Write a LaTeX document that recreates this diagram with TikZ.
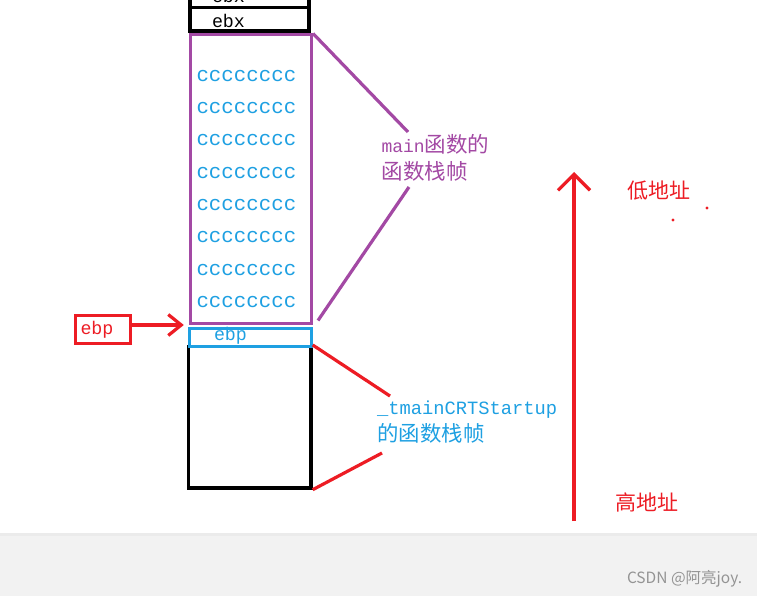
\documentclass[tikz,border=0pt]{standalone}
\usepackage{fontspec}
\setmainfont{Liberation Mono}
\newfontfamily\cjk{Noto Sans CJK SC}
\usetikzlibrary{arrows.meta}
\definecolor{pp}{HTML}{A349A4}
\definecolor{rd}{HTML}{ED1C24}
\definecolor{bl}{HTML}{1EA0E2}
\tikzset{
  box/.style={draw, line width=3.4pt, inner sep=0pt, rectangle},
  lbl/.style={anchor=base west, inner sep=0pt, outer sep=0pt},
  cc/.style={lbl, text=bl, font=\fontsize{20.8}{20.8}\selectfont},
  reg/.style={lbl, font=\fontsize{18.3}{18.3}\selectfont},
  hz/.style={lbl, text=rd, font=\cjk\fontsize{21}{21}\selectfont},
  conn/.style={line width=3.2pt},
}
\begin{document}
\begin{tikzpicture}[x=1pt,y=-1pt]
\useasboundingbox (0,0) rectangle (757,596);
\fill[white] (0,0) rectangle (757,596);
% bottom band
\fill[black!5] (0,534) rectangle (757,596);
\fill[black!8] (0,533) rectangle (757,536);
\node[lbl, text=black!42, font=\cjk\fontsize{15.5}{15.5}\selectfont] (csdn) at (627,583) {CSDN @阿亮joy.};

% stack boxes
\begin{scope}
\clip (0,0) rectangle (757,596);
\node[box, minimum width=119pt, minimum height=37.5pt] (topbox) at (249.5,-11.25) {};
\node[reg] (topt) at (212,2.5) {ebx};
\end{scope}
\node[box, minimum width=119pt, minimum height=23.5pt] (ebxbox) at (249.5,19.25) {};
\node[reg] (ebxt) at (212,28) {ebx};
\node[box, draw=pp, line width=3pt, minimum width=121.5pt, minimum height=288pt] (mainbox) at (250.75,179) {};
\node[box, minimum width=122.7pt, minimum height=141.3pt] (crtbox) at (249.65,417.35) {};
\node[box, draw=bl, line width=3pt, minimum width=122.2pt, minimum height=18.4pt] (ebpbox) at (250.4,337.5) {};
\node[reg, text=bl] (ebpt) at (214,340) {ebp};

\foreach \i/\yy in {1/81.5,2/113.7,3/146,4/178.2,5/210.5,6/242.7,7/275,8/307.2}
  \node[cc] (c\i) at (196.5,\yy) {cccccccc};

% red ebp pointer
\node[box, draw=rd, line width=3pt, minimum width=54.7pt, minimum height=27.6pt] (redebp) at (102.65,329.5) {};
\node[reg, text=rd] (redebpt) at (80.5,334) {ebp};
\draw[conn, rd, -{Straight Barb[length=13pt,width=21pt]}, shorten >=4pt] ([yshift=4.5pt]redebp.east) -- ([yshift=12.5pt]ebpbox.west);

% main labels
\node[lbl, text=pp] (mainl1) at (381.5,153) {\fontsize{18}{18}\selectfont main{\cjk\fontsize{21.5}{21.5}\selectfont 函数的}};
\node[lbl, text=pp, font=\cjk\fontsize{21.5}{21.5}\selectfont] (mainl2) at (381.5,179.5) {函数栈帧};
\coordinate (pa) at (408,132);
\coordinate (pb) at (409,187);
\draw[conn, pp] (mainbox.north east) -- (pa);
\draw[conn, pp] (pb) -- ([xshift=5pt,yshift=4pt]mainbox.south east);

% crt labels
\node[lbl, text=bl, font=\fontsize{18.75}{18.75}\selectfont] (crtl1) at (377,414) {\_tmainCRTStartup};
\node[lbl, text=bl, font=\cjk\fontsize{21.4}{21.4}\selectfont] (crtl2) at (377.5,441) {的函数栈帧};
\coordinate (ra) at (390,396);
\coordinate (rb) at (382,453);
\draw[conn, rd] (crtbox.north east) -- (ra);
\draw[conn, rd] (crtbox.south east) -- (rb);

% address arrow
\coordinate (abot) at (574,521);
\coordinate (atop) at (574,172);
\draw[conn, rd, -{Straight Barb[length=16pt,width=32pt]}] (abot) -- (atop);
\node[hz] (low) at (627,198) {低地址};
\node[hz] (high) at (615,510) {高地址};
\fill[rd] (673,220) circle (1.7pt);
\fill[rd] (707,208) circle (1.7pt);
\end{tikzpicture}
\end{document}
